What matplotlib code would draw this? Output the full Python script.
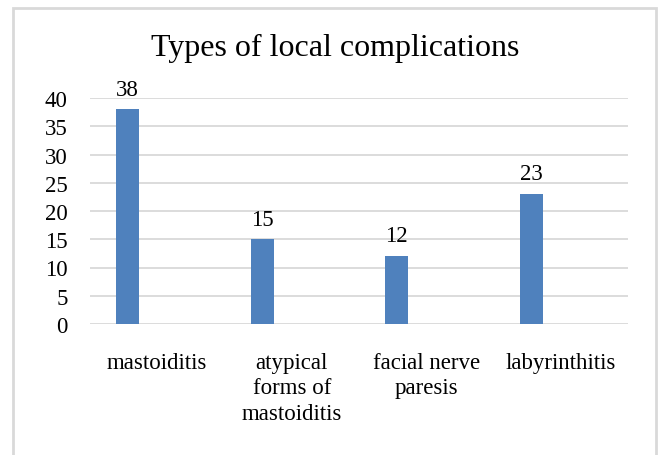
import matplotlib.pyplot as plt
from matplotlib.patches import Rectangle
import numpy as np

categories = ['mastoiditis', 'atypical\nforms of\nmastoiditis',
              'facial nerve\nparesis', 'labyrinthitis']
values = [38, 15, 12, 23]
y_ticks = [0, 5, 10, 15, 20, 25, 30, 35, 40]

plt.rcParams['font.family'] = ['Liberation Serif', 'DejaVu Serif']

W, H = 660, 456
fig = plt.figure(figsize=(6.6, 4.56), dpi=100)
ax = fig.add_axes([90 / W, 1 - 325 / H, 538 / W, 226 / H])

x = np.arange(len(categories))
ax.bar(x - 0.22, values, width=0.17, color='#4f81bd', zorder=3)
for xi, v in zip(x, values):
    ax.annotate(str(v), (xi - 0.22, v), xytext=(0, 7), textcoords='offset points',
                ha='center', va='bottom', fontsize=16.5)

ax.set_xlim(-0.5, len(categories) - 0.5)
ax.set_ylim(0, 40)
ax.set_yticks(y_ticks)
ax.set_xticks(x)
ax.set_xticklabels(categories, fontsize=16.5, linespacing=1.28)
ax.tick_params(axis='y', length=0, pad=16, labelsize=16.5)
ax.tick_params(axis='x', length=0, pad=20)
ax.grid(axis='y', color='#d9d9d9', linewidth=1.3, zorder=0)
for s in ax.spines.values():
    s.set_visible(False)

fig.text(335 / W, 1 - 48 / H, 'Types of local complications',
         ha='center', va='center', fontsize=23)

# light border around the chart area
fig.patches.append(Rectangle((13 / W, -0.05), (656 - 13) / W, 1.05 - 9 / H,
                             transform=fig.transFigure, fill=False,
                             edgecolor='#d9d9d9', linewidth=2))

fig.savefig('out.png', dpi=100)
